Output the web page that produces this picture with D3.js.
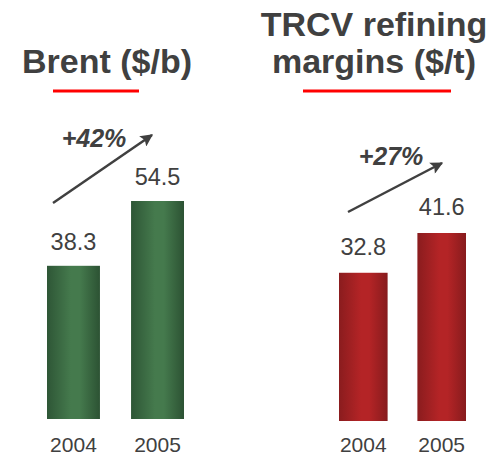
<!DOCTYPE html>
<html>
<head>
<meta charset="utf-8">
<script src="https://cdn.jsdelivr.net/npm/d3@7"></script>
<style>
  html, body { margin: 0; padding: 0; background: #fff; }
  svg { display: block; }
  text { font-family: "Liberation Sans", Arial, Helvetica, sans-serif; fill: #404040; }
</style>
</head>
<body>
<svg id="chart" width="493" height="457"></svg>
<script>
const years = ['2004', '2005']
const brent = [38.3, 54.5]
const trcv = [32.8, 41.6]
const growth = ['+42%', '+27%']

const width = 493
const height = 457
const svg = d3.select('#chart')

const defs = svg.append('defs')

// horizontal "cylinder" shading for the bars
function gradient(id, edge, mid, edge2) {
  const g = defs.append('linearGradient').attr('id', id)
    .attr('x1', '0%').attr('x2', '100%').attr('y1', '0%').attr('y2', '0%')
  g.append('stop').attr('offset', '0%').attr('stop-color', edge)
  g.append('stop').attr('offset', '45%').attr('stop-color', mid)
  g.append('stop').attr('offset', '62%').attr('stop-color', mid)
  g.append('stop').attr('offset', '100%').attr('stop-color', edge2)
}
gradient('green', '#2e5636', '#457a4d', '#2c5233')
gradient('red', '#8a1c1e', '#b42426', '#871b1d')

defs.append('marker')
  .attr('id', 'arrow')
  .attr('viewBox', '0 0 10 10')
  .attr('refX', 9).attr('refY', 5)
  .attr('markerWidth', 6).attr('markerHeight', 5)
  .attr('markerUnits', 'strokeWidth')
  .attr('orient', 'auto')
  .append('path')
  .attr('d', 'M0,0 L10,5 L0,10 L2,5 Z')
  .attr('fill', '#404040')

const panels = [
  {
    title: ['Brent ($/b)'], titleX: 107, titleY: [73],
    line: [53, 139],
    values: brent, fill: 'url(#green)',
    xRange: [47, 184], pad: 0.37,
    base: 419, top: 201, labelGap: 16, yearY: 452,
    arrow: [[53, 203], [152, 135]], pct: growth[0], pctX: 94, pctY: 147,
  },
  {
    title: ['TRCV refining', 'margins ($/t)'], titleX: 374, titleY: [36, 73],
    line: [303, 451],
    values: trcv, fill: 'url(#red)',
    xRange: [339, 466], pad: 0.38,
    base: 421, top: 233, labelGap: 18, yearY: 452,
    arrow: [[348, 212], [442, 163]], pct: growth[1], pctX: 391, pctY: 165,
  },
]

panels.forEach((p) => {
  const g = svg.append('g')

  const x = d3.scaleBand().domain(years).range(p.xRange)
    .paddingInner(p.pad).paddingOuter(0)
  const y = d3.scaleLinear().domain([0, d3.max(p.values)]).range([p.base, p.top])

  // title
  g.append('text')
    .attr('text-anchor', 'middle')
    .attr('font-size', 34)
    .attr('font-weight', 'bold')
    .selectAll('tspan')
    .data(p.title)
    .join('tspan')
    .attr('x', p.titleX)
    .attr('y', (d, i) => p.titleY[i])
    .text((d) => d)

  g.append('line')
    .attr('x1', p.line[0]).attr('x2', p.line[1])
    .attr('y1', 91).attr('y2', 91)
    .attr('stroke', '#ff0000').attr('stroke-width', 3)

  const data = years.map((yr, i) => ({ year: yr, value: p.values[i] }))

  g.selectAll('rect')
    .data(data)
    .join('rect')
    .attr('x', (d) => x(d.year))
    .attr('width', x.bandwidth())
    .attr('y', (d) => y(d.value))
    .attr('height', (d) => y(0) - y(d.value))
    .attr('fill', p.fill)

  g.selectAll('.val')
    .data(data)
    .join('text')
    .attr('class', 'val')
    .attr('text-anchor', 'middle')
    .attr('font-size', 23.5)
    .attr('x', (d) => x(d.year) + x.bandwidth() / 2)
    .attr('y', (d) => y(d.value) - p.labelGap)
    .text((d) => d.value.toFixed(1))

  g.selectAll('.yr')
    .data(data)
    .join('text')
    .attr('class', 'yr')
    .attr('text-anchor', 'middle')
    .attr('font-size', 21)
    .attr('x', (d) => x(d.year) + x.bandwidth() / 2)
    .attr('y', p.yearY)
    .text((d) => d.year)

  g.append('line')
    .attr('x1', p.arrow[0][0]).attr('y1', p.arrow[0][1])
    .attr('x2', p.arrow[1][0]).attr('y2', p.arrow[1][1])
    .attr('stroke', '#404040').attr('stroke-width', 2.5)
    .attr('marker-end', 'url(#arrow)')

  g.append('text')
    .attr('text-anchor', 'middle')
    .attr('font-size', 25)
    .attr('font-weight', 'bold')
    .attr('font-style', 'italic')
    .attr('x', p.pctX)
    .attr('y', p.pctY)
    .text(p.pct)
})
</script>
</body>
</html>
